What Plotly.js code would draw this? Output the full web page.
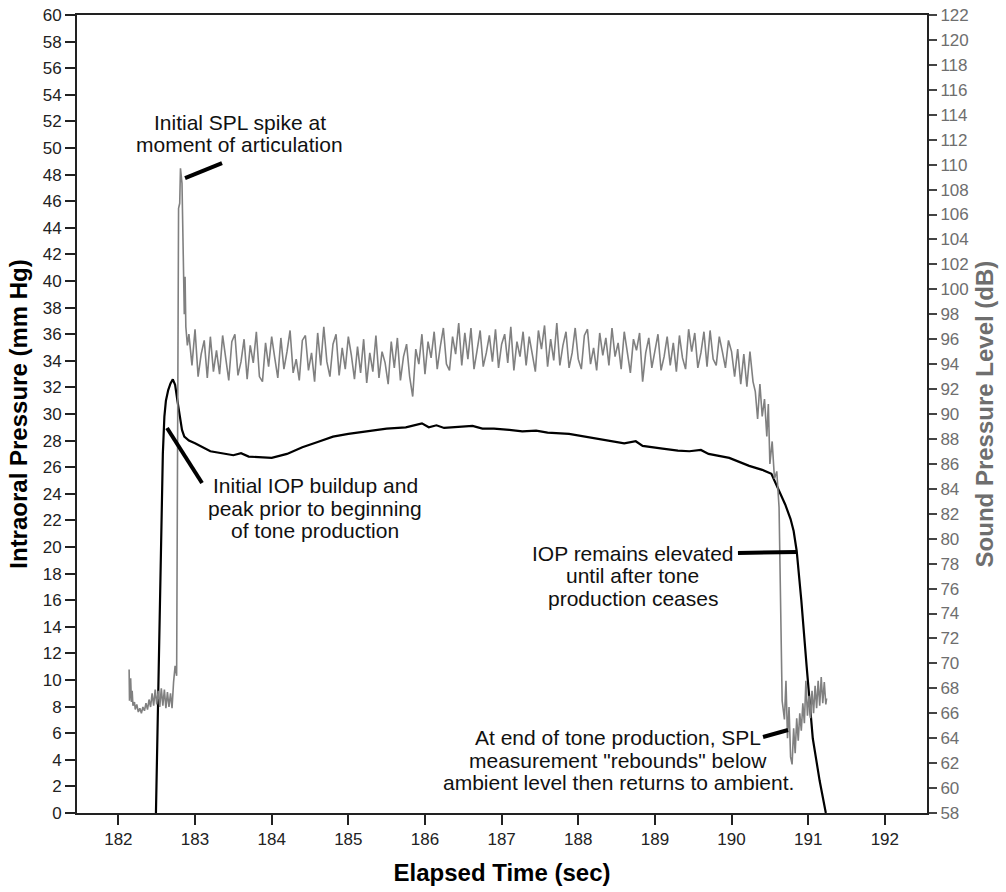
<!DOCTYPE html>
<html><head><meta charset="utf-8">
<script src="https://cdn.plot.ly/plotly-3.0.1.min.js"></script>
<style>html,body{margin:0;padding:0;background:#fff}#chart{width:1006px;height:892px}</style>
</head><body><div id="chart"></div>
<script>
// ---- Intraoral pressure (mm Hg), left axis ----
const iopTime = [182.49,182.51,182.53,182.55,182.565,182.58,182.60,182.62,182.65,182.68,182.71,182.74,182.77,182.80,182.83,182.86,182.92,183.00,183.20,183.50,183.60,183.70,184.00,184.20,184.40,184.60,184.80,185.00,185.25,185.50,185.75,185.96,186.05,186.15,186.25,186.40,186.62,186.75,186.90,187.10,187.27,187.45,187.60,187.88,188.10,188.37,188.60,188.75,188.84,189.10,189.30,189.45,189.60,189.70,189.97,190.23,190.40,190.52,190.62,190.70,190.77,190.81,190.85,190.91,190.98,191.06,191.15,191.23];
const iopMmHg = [0,6,13,19,23.5,27,29.8,31.0,31.8,32.3,32.6,32.2,31.0,29.8,28.8,28.3,28.0,27.8,27.2,26.9,27.05,26.8,26.7,27.0,27.5,27.9,28.3,28.5,28.7,28.9,29.0,29.3,29.0,29.15,28.95,29.0,29.1,28.9,28.9,28.8,28.7,28.75,28.6,28.5,28.3,28.0,27.8,27.95,27.6,27.4,27.25,27.2,27.3,27.0,26.7,26.1,25.8,25.5,24.2,23.2,22.1,21.2,19.7,16.0,11.0,5.6,2.4,0];

// ---- Sound pressure level (dB), right axis ----
const splLeadTime = [182.14,182.145,182.16,182.17,182.18,182.19,182.21,182.22,182.24,182.26,182.28,182.30,182.32,182.34,182.36,182.38,182.40,182.42,182.44,182.46,182.48,182.50,182.52,182.54,182.56,182.58,182.60,182.62,182.64,182.66,182.68,182.70,182.72,182.74,182.76,182.775,182.785,182.80,182.81,182.83,182.85,182.86,182.87,182.88,182.90];
const splLeadDb = [69.5,67.0,68.8,66.9,67.8,66.6,66.9,66.3,66.7,66.1,66.4,66.0,66.5,66.2,66.8,66.3,67.1,66.5,67.6,66.6,67.9,66.7,67.8,66.5,68.0,66.6,67.9,66.4,67.7,66.5,67.6,66.4,68.5,69.8,69.0,100.0,106.5,106.9,109.7,108.5,100.5,98.0,101.0,97.0,95.5];

const splBodyStart = 182.92;   // sampling grid of the sustained tone
const splBodyStep = 0.04;
const splBodyDb = [
  96.4,93.9,96.8,93.0,94.8,95.9,92.9,96.2,93.4,95.1,
  93.2,96.3,94.6,92.7,95.8,96.4,93.1,94.2,96.0,92.8,
  95.5,94.1,96.6,93.0,92.6,95.7,93.8,96.2,94.5,92.9,
  96.1,93.6,95.0,96.7,93.3,94.4,92.7,95.9,96.3,93.5,
  94.9,92.6,96.5,93.9,97.0,94.2,93.0,95.6,96.4,93.1,
  95.3,93.6,96.2,94.7,92.8,95.4,93.3,96.0,92.5,94.9,
  93.4,96.3,92.9,95.0,94.1,92.4,95.8,93.7,96.1,92.7,
  94.6,95.6,93.0,91.4,95.2,94.0,96.4,93.2,95.8,94.5,
  96.6,93.6,95.4,96.9,94.0,93.5,96.2,94.8,97.3,93.9,
  96.5,94.4,96.9,93.6,95.1,96.7,93.8,94.9,96.3,94.2,
  96.8,93.7,95.6,96.4,94.1,97.0,93.5,95.8,94.6,96.6,
  93.9,96.2,94.8,93.4,96.7,95.2,97.1,93.8,96.0,94.3,
  97.3,93.9,95.5,96.6,93.7,94.9,96.9,94.4,93.6,96.3,
  96.8,94.0,95.3,93.5,96.5,94.7,96.1,93.9,96.9,94.6,
  95.7,93.6,96.6,94.8,93.3,96.0,95.1,96.5,92.6,94.9,
  96.1,93.7,95.0,96.4,93.5,94.6,96.2,93.9,95.7,93.4,
  96.3,94.5,93.6,96.8,95.0,96.5,93.7,94.9,96.6,93.8,
  96.7,94.4,93.9,96.2,95.0,93.7,95.9
];

const splTailTime = [190.00,190.04,190.08,190.12,190.16,190.20,190.24,190.28,190.31,190.34,190.37,190.40,190.43,190.46,190.48,190.50,190.53,190.56,190.59,190.62,190.64,190.66,190.69,190.71,190.73,190.75,190.77,190.79,190.81,190.83,190.85,190.87,190.89,190.91,190.93,190.95,190.97,190.99,191.01,191.03,191.05,191.07,191.09,191.11,191.13,191.15,191.17,191.19,191.21,191.23,191.24];
const splTailDb = [95.0,93.0,95.2,92.4,94.8,92.2,95.0,92.6,91.8,89.6,92.4,89.8,91.2,88.2,90.8,86.0,87.8,84.8,85.4,82.5,76.0,67.0,65.5,68.6,64.0,66.5,62.5,61.9,64.8,62.8,65.6,63.8,66.0,64.6,66.8,65.2,68.6,65.8,67.4,65.6,67.8,66.0,68.2,66.4,68.6,66.6,68.9,66.8,68.5,66.7,67.2];

const xTicks = [182,183,184,185,186,187,188,189,190,191,192];

// assemble SPL series
const splTime = splLeadTime.slice();
const splDb = splLeadDb.slice();
splBodyDb.forEach((v, i) => { splTime.push(+(splBodyStart + i * splBodyStep).toFixed(3)); splDb.push(v); });
splTailTime.forEach((t, i) => { splTime.push(t); splDb.push(splTailDb[i]); });

const FONT = 'Liberation Sans, Arial, sans-serif';

const traces = [
  {x: splTime, y: splDb, yaxis: 'y2', type: 'scatter', mode: 'lines',
   line: {color: '#808080', width: 1.6}, hoverinfo: 'x+y'},
  {x: iopTime, y: iopMmHg, yaxis: 'y', type: 'scatter', mode: 'lines',
   line: {color: '#000000', width: 2.2}, hoverinfo: 'x+y'}
];

function txt(text, x, y) {
  return {text: text, x: x, y: y, xref: 'paper', yref: 'paper', showarrow: false,
          xanchor: 'center', yanchor: 'middle', font: {family: FONT, size: 21, color: '#111'}};
}
// paper y from pixel row: (813 - row) / 798
const annotations = [
  txt('Initial SPL spike at', 0.1918, 0.8659),
  txt('moment of articulation', 0.1906, 0.8371),
  txt('Initial IOP buildup and', 0.2800, 0.4110),
  txt('peak prior to beginning', 0.2800, 0.3822),
  txt('of tone production', 0.2800, 0.3534),
  txt('IOP remains elevated', 0.6541, 0.3258),
  txt('until after tone', 0.6541, 0.2970),
  txt('production ceases', 0.6541, 0.2682),
  txt('At end of tone production, SPL', 0.6365, 0.0952),
  txt('measurement "rebounds" below', 0.6365, 0.0664),
  txt('ambient level then returns to ambient.', 0.6365, 0.0376)
];

function pointer(x0, y0, x1, y1) {
  return {type: 'line', xref: 'paper', yref: 'paper', x0: x0, y0: y0, x1: x1, y1: y1,
          line: {color: '#000', width: 4}};
}
const shapes = [
  pointer(0.1271, 0.7957, 0.1706, 0.8145),
  pointer(0.1059, 0.4825, 0.1471, 0.4135),
  pointer(0.7776, 0.3258, 0.8471, 0.3271),
  pointer(0.8071, 0.0952, 0.8365, 0.1040)
];

const layout = {
  width: 1006, height: 892,
  margin: {l: 77, r: 79, t: 15, b: 79},
  paper_bgcolor: '#fff', plot_bgcolor: '#fff',
  showlegend: false,
  font: {family: FONT, color: '#222'},
  xaxis: {
    range: [181.46, 192.55], tickvals: xTicks, ticktext: xTicks.map(String),
    ticks: 'outside', ticklen: 10, tickwidth: 2, tickcolor: '#222',
    showline: true, linecolor: '#222', linewidth: 2, mirror: true,
    showgrid: false, zeroline: false,
    tickfont: {family: FONT, size: 17, color: '#222'},
    title: {text: 'Elapsed Time (sec)', standoff: 16, font: {family: FONT, size: 24, color: '#000', weight: 'bold'}}
  },
  yaxis: {
    range: [0, 60], dtick: 2, tick0: 0,
    ticks: 'outside', ticklen: 10, tickwidth: 2, tickcolor: '#222',
    showline: true, linecolor: '#222', linewidth: 2,
    showgrid: false, zeroline: false,
    tickfont: {family: FONT, size: 17, color: '#222'},
    title: {text: 'Intraoral Pressure (mm Hg)', standoff: 8, font: {family: FONT, size: 24, color: '#000', weight: 'bold'}}
  },
  yaxis2: {
    overlaying: 'y', side: 'right',
    range: [58, 122], dtick: 2, tick0: 58,
    ticks: 'outside', ticklen: 8, tickwidth: 2, tickcolor: '#444',
    showline: true, linecolor: '#222', linewidth: 2,
    showgrid: false, zeroline: false,
    tickfont: {family: FONT, size: 17, color: '#6e6e6e'},
    title: {text: 'Sound Pressure Level (dB)', standoff: 8, font: {family: FONT, size: 24, color: '#6e6e6e', weight: 'bold'}}
  },
  annotations: annotations,
  shapes: shapes
};

Plotly.newPlot('chart', traces, layout, {displayModeBar: false, staticPlot: true});
</script>
</body></html>
